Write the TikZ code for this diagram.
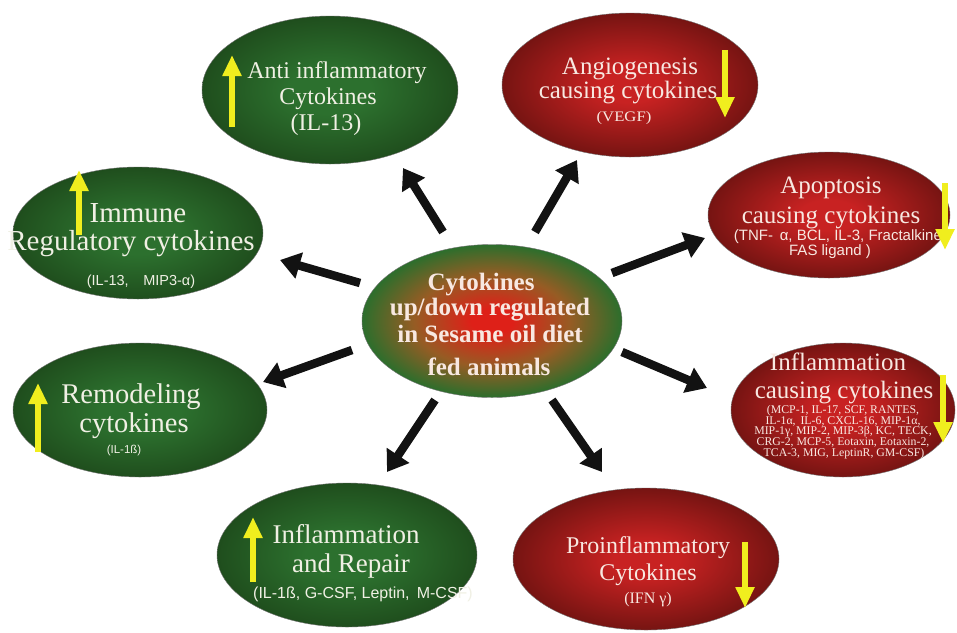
\documentclass[tikz,border=0pt]{standalone}
\usepackage{fontspec}
\setmainfont{Liberation Serif}
\newfontfamily\subsans{Liberation Sans}
\newfontfamily\subserif[FakeStretch=1.15]{Liberation Serif}
\usetikzlibrary{arrows.meta,shapes.geometric}

\definecolor{gin}{RGB}{44,112,46}
\definecolor{gmid}{RGB}{32,80,30}
\definecolor{gout}{RGB}{20,46,16}
\definecolor{rin}{RGB}{200,34,34}
\definecolor{rmid}{RGB}{118,20,18}
\definecolor{rout}{RGB}{74,12,10}
\definecolor{cin}{RGB}{222,32,24}
\definecolor{cmid}{RGB}{150,92,36}
\definecolor{cout}{RGB}{44,110,44}
\definecolor{cedge}{RGB}{36,94,36}
\definecolor{txtg}{RGB}{240,240,228}
\definecolor{txtr}{RGB}{248,232,225}
\definecolor{ylw}{RGB}{240,238,30}
\definecolor{arrblk}{RGB}{18,18,18}

\pgfdeclareradialshading{greenball}{\pgfpoint{0bp}{0bp}}{color(0bp)=(gin); color(8bp)=(gin); color(24bp)=(gmid); color(35bp)=(gout); color(50bp)=(gout)}
\pgfdeclareradialshading{redball}{\pgfpoint{0bp}{0bp}}{color(0bp)=(rin); color(6bp)=(rin); color(25bp)=(rmid); color(35bp)=(rout); color(50bp)=(rout)}
\pgfdeclareradialshading{centerball}{\pgfpoint{0bp}{0bp}}{color(0bp)=(cin); color(4bp)=(cin); color(15bp)=(cmid); color(25bp)=(cout); color(35bp)=(cedge); color(50bp)=(cedge)}

\tikzset{
  blob/.style={ellipse, inner sep=0pt, draw=black!55, line width=0.4pt},
  gblob/.style={blob, shading=greenball},
  rblob/.style={blob, shading=redball},
  cblob/.style={blob, shading=centerball},
  ttl/.style={inner sep=0pt, anchor=base, font=\fontsize{#1pt}{#1pt}\selectfont},
  ssans/.style={inner sep=0pt, anchor=base, font=\subsans\fontsize{#1pt}{#1pt}\selectfont},
  sserif/.style={inner sep=0pt, anchor=base, font=\subserif\fontsize{#1pt}{#1pt}\selectfont},
  pserif/.style={inner sep=0pt, anchor=base, font=\fontsize{#1pt}{#1pt}\selectfont},
  bigarrow/.style={line width=8.5pt, draw=arrblk, -{Triangle[length=20pt,width=26pt]}},
  ylwarrow/.style={line width=6pt, draw=ylw, -{Triangle[length=21pt,width=18pt]}},
}

\begin{document}
\begin{tikzpicture}[x=1pt,y=-1pt]
\fill[white] (0,0) rectangle (957,632);
\useasboundingbox (0,0) rectangle (957,632);

% ellipses
\node[cblob, minimum width=260pt, minimum height=153pt] (c) at (492,321) {};
\node[gblob, minimum width=256pt, minimum height=148pt] (anti) at (330,90) {};
\node[rblob, minimum width=256pt, minimum height=144pt] (angio) at (630,85) {};
\node[rblob, minimum width=242pt, minimum height=126pt] (apop) at (829,215) {};
\node[rblob, minimum width=224pt, minimum height=134pt] (infc) at (843,410) {};
\node[rblob, minimum width=266pt, minimum height=142pt] (proi) at (646,559) {};
\node[gblob, minimum width=260pt, minimum height=144pt] (repair) at (347,555) {};
\node[gblob, minimum width=254pt, minimum height=134pt] (remod) at (140,410) {};
\node[gblob, minimum width=250pt, minimum height=132pt] (immune) at (138,233) {};

% centre text
\node[ttl=25, text=txtr, font=\bfseries\fontsize{25pt}{25pt}\selectfont] (c1) at (481,290) {Cytokines};
\node[ttl=25, text=txtr, font=\bfseries\fontsize{25pt}{25pt}\selectfont] (c2) at (490,315) {up/down regulated};
\node[ttl=25, text=txtr, font=\bfseries\fontsize{25pt}{25pt}\selectfont] (c3) at (490,342) {in Sesame oil diet};
\node[ttl=25, text=txtr, font=\bfseries\fontsize{25pt}{25pt}\selectfont] (c4) at (489,375) {fed animals};

% anti inflammatory
\node[ttl=24, text=txtg] (a1) at (337,78) {Anti inflammatory};
\node[ttl=24, text=txtg] (a2) at (328,104) {Cytokines};
\node[ttl=24, text=txtg] (a3) at (326,130) {(IL-13)};

% angiogenesis
\node[ttl=25, text=txtr] (g1) at (630,74) {Angiogenesis};
\node[ttl=25, text=txtr] (g2) at (628,98) {causing cytokines};
\node[sserif=14.5, text=txtr] (g3) at (624,121) {(VEGF)};

% apoptosis
\node[ttl=25, text=txtr] (p1) at (831,193) {Apoptosis};
\node[ttl=25, text=txtr] (p2) at (831,223) {causing cytokines};
\node[ssans=15, text=txtr] (p3) at (840,240) {(TNF-\, α, BCL, IL-3, Fractalkine,};
\node[ssans=15, text=txtr] (p4) at (830,255) {FAS ligand )};

% inflammation causing
\node[ttl=25, text=txtr] (i1) at (838,370) {Inflammation};
\node[ttl=25, text=txtr] (i2) at (844,398) {causing cytokines};
\node[pserif=11.8, text=txtr] (i3) at (843,413) {(MCP-1, IL-17, SCF, RANTES,};
\node[pserif=11.8, text=txtr] (i4) at (843,424) {IL-1α,\, IL-6, CXCL-16, MIP-1α,};
\node[pserif=11.8, text=txtr] (i5) at (843,434.5) {MIP-1γ, MIP-2, MIP-3β, KC, TECK,};
\node[pserif=11.8, text=txtr] (i6) at (843,445) {CRG-2, MCP-5, Eotaxin, Eotaxin-2,};
\node[pserif=11.8, text=txtr] (i7) at (844,456) {TCA-3, MIG, LeptinR, GM-CSF)};

% proinflammatory
\node[ttl=24, text=txtr] (r1) at (648,553) {Proinflammatory};
\node[ttl=24, text=txtr] (r2) at (648,580) {Cytokines};
\node[ttl=16, text=txtr] (r3) at (648,603) {(IFN γ)};

% inflammation and repair
\node[ttl=27, text=txtg] (e1) at (346,543) {Inflammation};
\node[ttl=27, text=txtg] (e2) at (351,572) {and Repair};
\node[ssans=16, text=txtg] (e3) at (363,598) {(IL-1ß, G-CSF, Leptin,\, M-CSF)};

% remodeling
\node[ttl=28.5, text=txtg] (m1) at (131,403) {Remodeling};
\node[ttl=28.5, text=txtg] (m2) at (134,432) {cytokines};
\node[ssans=11.5, text=txtg] (m3) at (124,453) {(IL-1ß)};

% immune
\node[ttl=29, text=txtg] (u1) at (138,222) {Immune};
\node[ttl=29, text=txtg] (u2) at (131,250) {Regulatory cytokines};
\node[ssans=14.5, text=txtg] (u3) at (141,285) {(IL-13,\quad MIP3-α)};

% black arrow end points
\coordinate (c-anti) at (443,232);   \coordinate (anti-in) at (403,168);
\coordinate (c-angio) at (535,232);  \coordinate (angio-in) at (577,160);
\coordinate (c-apop) at (612,273);   \coordinate (apop-in) at (705,238);
\coordinate (c-infc) at (622,352);   \coordinate (infc-in) at (707,388);
\coordinate (c-proi) at (552,400);   \coordinate (proi-in) at (602,472);
\coordinate (c-repair) at (435,400); \coordinate (repair-in) at (387,472);
\coordinate (c-remod) at (352,350);  \coordinate (remod-in) at (263,382);
\coordinate (c-immune) at (360,283); \coordinate (immune-in) at (280,260);

\draw[bigarrow] (c-anti) -- (anti-in);
\draw[bigarrow] (c-angio) -- (angio-in);
\draw[bigarrow] (c-apop) -- (apop-in);
\draw[bigarrow] (c-infc) -- (infc-in);
\draw[bigarrow] (c-proi) -- (proi-in);
\draw[bigarrow] (c-repair) -- (repair-in);
\draw[bigarrow] (c-remod) -- (remod-in);
\draw[bigarrow] (c-immune) -- (immune-in);

% yellow up/down arrows
\coordinate (ya-s) at (232,127);  \coordinate (ya-e) at (232,55);
\coordinate (yu-s) at (79,235);   \coordinate (yu-e) at (79,170);
\coordinate (ym-s) at (38,452);   \coordinate (ym-e) at (38,383);
\coordinate (ye-s) at (253,582);  \coordinate (ye-e) at (253,517);
\coordinate (yg-s) at (725,50);   \coordinate (yg-e) at (725,118);
\coordinate (yp-s) at (945,183);  \coordinate (yp-e) at (945,250);
\coordinate (yi-s) at (943,375);  \coordinate (yi-e) at (943,443);
\coordinate (yr-s) at (745,542);  \coordinate (yr-e) at (745,608);

\draw[ylwarrow] (ya-s) -- (ya-e);
\draw[ylwarrow] (yu-s) -- (yu-e);
\draw[ylwarrow] (ym-s) -- (ym-e);
\draw[ylwarrow] (ye-s) -- (ye-e);
\draw[ylwarrow] (yg-s) -- (yg-e);
\draw[ylwarrow] (yp-s) -- (yp-e);
\draw[ylwarrow] (yi-s) -- (yi-e);
\draw[ylwarrow] (yr-s) -- (yr-e);
\end{tikzpicture}
\end{document}
